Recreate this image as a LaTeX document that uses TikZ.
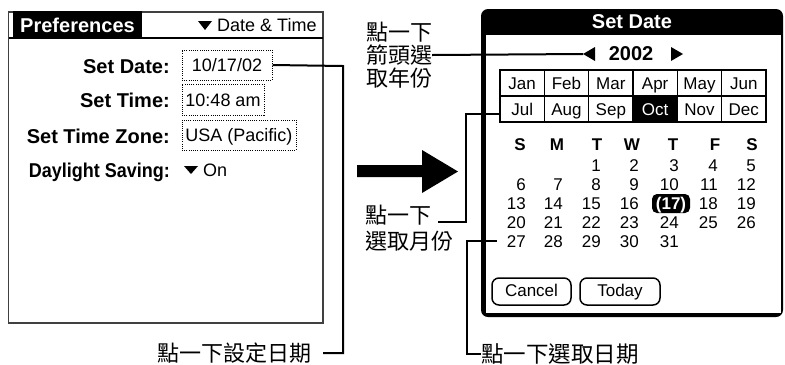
\documentclass[tikz,border=0pt]{standalone}
\usepackage{fontspec}
\usepackage{graphicx}
\setmainfont{Liberation Sans}
\newfontfamily\cjk{Noto Sans CJK TC}
\newcommand\fsz[1]{\fontsize{#1bp}{#1bp}\selectfont}
\begin{document}
\begin{tikzpicture}[x=1bp,y=-1bp,
  conn/.style={line width=2bp},
  lab/.style={font=\bfseries\fsz{20}, anchor=east, inner sep=0pt, text height=14bp, text depth=0pt},
  dbox/.style={draw, line width=1bp, dash pattern=on 1bp off 1.2bp, inner sep=0pt, font=\fsz{18}, text height=13bp, text depth=0pt},
  cjklab/.style={font=\cjk\fsz{22}, inner sep=0pt},
  mcell/.style={draw, line width=1.5bp, minimum width=44.33bp, minimum height=26bp, inner sep=0pt, font=\fsz{17}, text height=12bp, text depth=0pt},
  dnum/.style={font=\fsz{17}, anchor=east, inner sep=0pt, text height=12bp, text depth=0pt},
  dhead/.style={font=\bfseries\fsz{17}, inner sep=0pt, text height=12bp, text depth=0pt},
  btn/.style={draw, line width=1.5bp, rounded corners=7bp, minimum height=27bp, font=\fsz{17}, inner sep=0pt, text height=12bp, text depth=3bp},
]
\useasboundingbox (0,0) rectangle (785,364);

% ---------- left screen ----------
\draw[line width=1.5bp, black!75] (8.5,12) rectangle (323,323);
\fill (13,11) rectangle (142,38);
\draw[line width=1.5bp] (8.5,38) -- (323,38);
\node[font=\bfseries\fsz{20}, text=white, inner sep=0pt] (pref) at (77.5,25) {Preferences};
\fill (198,21) -- (212,21) -- (205,30) -- cycle;
\node[font=\fsz{18}, anchor=west, inner sep=0pt] (dt) at (217,25) {Date \& Time};

\node[lab] (l-sd) at (170,66) {Set Date:};
\node[lab] (l-st) at (170,100) {Set Time:};
\node[lab] (l-tz) at (170,136) {Set Time Zone:};
\node[lab] (l-ds) at (170,170) {\scalebox{0.9}[1]{Daylight Saving:}};

\node[dbox, minimum width=90bp, minimum height=30bp] (sd) at (227,65) {10/17/02};
\node[dbox, minimum width=82bp, minimum height=31bp] (st) at (223,99.5) {10:48 am};
\node[dbox, minimum width=114bp, minimum height=30bp] (tz) at (239,135) {USA (Pacific)};
\fill (184,166) -- (198,166) -- (191,174) -- cycle;
\node[font=\fsz{18}, anchor=west, inner sep=0pt, text height=13bp, text depth=0pt] (on) at (203,170) {On};

% ---------- big arrow ----------
\fill (357,165) -- (422,165) -- (422,150) -- (458,171.5) -- (422,193) -- (422,177) -- (357,177) -- cycle;

% ---------- right screen ----------
\fill[rounded corners=7bp] (481,9) rectangle (783,317);
\fill[white] (486,35) rectangle (781,313);
\node[font=\bfseries\fsz{20}, text=white, inner sep=0pt] (title) at (632,22) {Set Date};

\fill (583,54) -- (595,47) -- (595,61) -- cycle;
\coordinate (ytip) at (583,54);
\node[font=\bfseries\fsz{20}, inner sep=0pt, text height=14bp, text depth=0pt] (year) at (631,53) {2002};
\fill (683,54) -- (671,47) -- (671,61) -- cycle;

\foreach \m [count=\i from 0] in {Jan,Feb,Mar,Apr,May,Jun,Jul,Aug,Sep,Oct,Nov,Dec}{
  \pgfmathsetmacro\cx{522.17+44.33*mod(\i,6)}
  \pgfmathsetmacro\cy{83+26*div(\i,6)}
  \ifnum\i=9
    \node[mcell, fill=black, text=white] (m\i) at (\cx,\cy) {\m};
  \else
    \node[mcell] (m\i) at (\cx,\cy) {\m};
  \fi
}

\foreach \d/\x in {S/520,M/557,T/597,W/632,T/673,F/715,S/752}{
  \node[dhead] at (\x,144) {\d};
}

\foreach \n in {1,...,31}{
  \pgfmathtruncatemacro\cc{mod(\n+1,7)}
  \pgfmathtruncatemacro\rr{div(\n+1,7)}
  \pgfmathsetmacro\xx{{526,563,601,639,679,718,756}[\cc]}
  \pgfmathsetmacro\yy{165+19*\rr}
  \ifnum\n=17\relax\else
    \node[dnum] (d\n) at (\xx,\yy) {\n};
  \fi
}
\node[fill=black, rounded corners=5bp, minimum width=38bp, minimum height=19bp, inner sep=0pt,
      font=\bfseries\fsz{17}, text=white, text height=12bp, text depth=0pt] (d17) at (671,203.5) {(17)};

\node[btn, minimum width=79bp] (cancel) at (531.5,291.5) {Cancel};
\node[btn, minimum width=80bp] (today) at (620,291.5) {Today};

% ---------- callout labels ----------
\node[cjklab, anchor=west] (c1) at (157,353) {點一下設定日期};
\node[cjklab, align=left, font=\cjk\fontsize{22bp}{23bp}\selectfont] (c2) at (399,55) {點一下\\箭頭選\\取年份};
\node[cjklab, align=left, anchor=west, font=\cjk\fontsize{22bp}{26bp}\selectfont] (c3) at (365,228) {點一下\\選取月份};
\node[cjklab, anchor=west, font=\cjk\fsz{22.5}] (c4) at (481,354) {點一下選取日期};

% ---------- connectors ----------
\coordinate (k1a) at (343,66);
\coordinate (k1b) at (343,353);
\coordinate (k1c) at (323,353);
\draw[conn] (sd.east) -- (k1a) -- (k1b) -- (k1c);

\draw[conn] (c2.east) -- (ytip);

\coordinate (k3a) at (500,114);
\coordinate (k3b) at (466,114);
\coordinate (k3c) at (466,222);
\coordinate (k3d) at (438,222);
\draw[conn] (k3a) -- (k3b) -- (k3c) -- (k3d);

\coordinate (k4a) at (497,241);
\coordinate (k4b) at (467,241);
\coordinate (k4c) at (467,354);
\draw[conn] (k4a) -- (k4b) -- (k4c) -- (c4.west);
\end{tikzpicture}
\end{document}
